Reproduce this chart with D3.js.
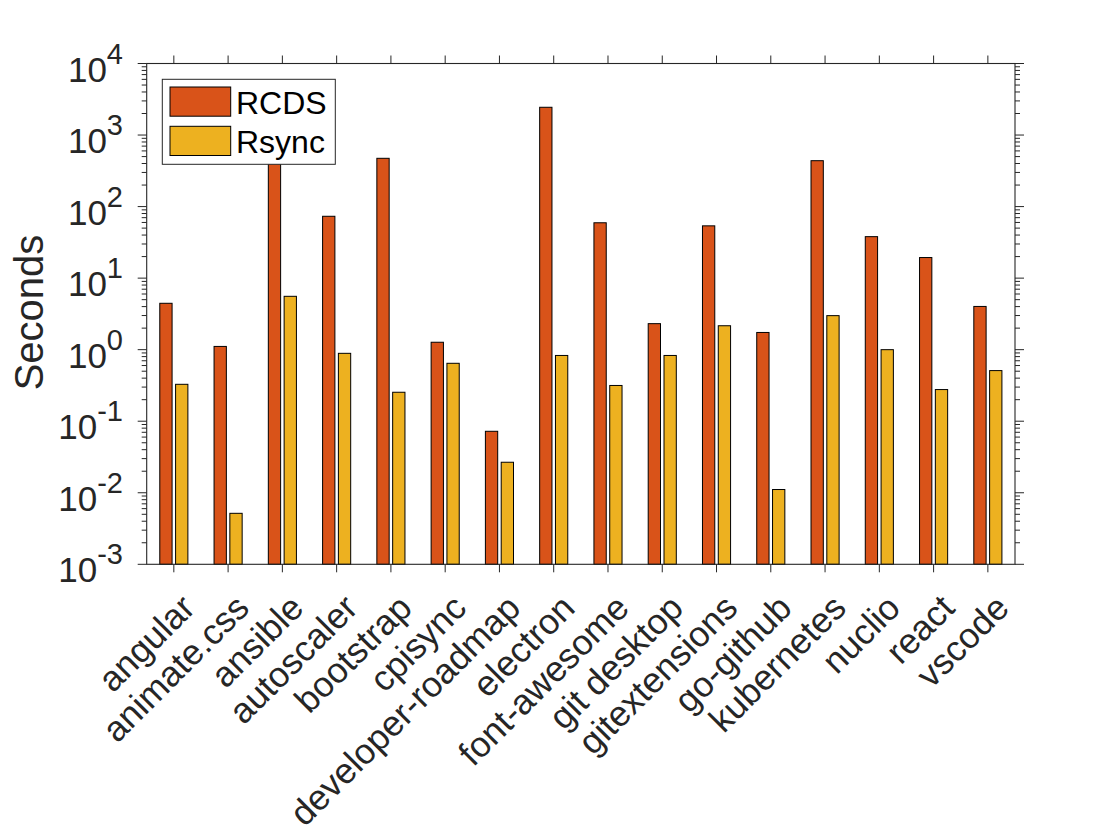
<!DOCTYPE html>
<html><head><meta charset="utf-8">
<script src="https://cdn.jsdelivr.net/npm/d3@7"></script>
<style>
html,body{margin:0;padding:0;background:#fff;}
svg{display:block;font-family:"Liberation Sans",Arial,Helvetica,sans-serif;}
</style></head>
<body>
<svg id="chart" width="1120" height="840"></svg>
<script>
const categories = ["angular","animate.css","ansible","autoscaler","bootstrap","cpisync","developer-roadmap","electron","font-awesome","git desktop","gitextensions","go-github","kubernetes","nuclio","react","vscode"];
const seriesNames = ["RCDS","Rsync"];
const rcds  = [4.45, 1.11, 700, 73.2, 473, 1.27, 0.0723, 2444, 59.4, 2.31, 53.8, 1.74, 438, 38.0, 19.4, 4.02];
const rsync = [0.328, 0.00516, 5.57, 0.889, 0.254, 0.645, 0.0267, 0.83, 0.316, 0.83, 2.16, 0.0111, 2.99, 1.0, 0.277, 0.51];
const yTickExponents = [-3,-2,-1,0,1,2,3,4];
const colors = ["#D95319","#EDB120"];

const svg = d3.select("#chart");
const L = 146.7, R = 1015, T = 63.5, B = 564.3;
const ink = "#262626";

const x = d3.scaleBand().domain(categories).range([L, R]).paddingInner(0).paddingOuter(0);
const inner = d3.scaleBand().domain(seriesNames).range([-14.05, 14.05]).paddingInner(0.2215);
const y = d3.scaleLog().domain([1e-3, 1e4]).range([B, T]);
const color = d3.scaleOrdinal().domain(seriesNames).range(colors);

const rows = categories.map((c, i) => ({cat: c, vals: [{s: "RCDS", v: rcds[i]}, {s: "Rsync", v: rsync[i]}]}));

// bars
const g = svg.append("g");
g.selectAll("g.grp").data(rows).join("g").attr("class","grp")
 .attr("transform", d => `translate(${x(d.cat) + x.bandwidth()/2},0)`)
 .selectAll("rect").data(d => d.vals).join("rect")
 .attr("x", d => inner(d.s))
 .attr("width", inner.bandwidth())
 .attr("y", d => y(d.v))
 .attr("height", d => y(1e-3) - y(d.v))
 .attr("fill", d => color(d.s))
 .attr("stroke", "#000").attr("stroke-width", 1);

// box
svg.append("rect").attr("x", L).attr("y", T).attr("width", R - L).attr("height", B - T)
 .attr("fill", "none").attr("stroke", ink).attr("stroke-width", 1.1);

// y ticks (left and right, outward)
const majors = yTickExponents.map(e => Math.pow(10, e));
const minors = [];
for (let e = -3; e < 4; e++) for (let k = 2; k <= 9; k++) minors.push(k * Math.pow(10, e));
const tk = svg.append("g").attr("stroke", ink).attr("stroke-width", 1);
majors.forEach(v => {
  tk.append("line").attr("x1", L - 9).attr("x2", L).attr("y1", y(v)).attr("y2", y(v));
  tk.append("line").attr("x1", R).attr("x2", R + 9).attr("y1", y(v)).attr("y2", y(v));
});
minors.forEach(v => {
  tk.append("line").attr("x1", L - 5).attr("x2", L).attr("y1", y(v)).attr("y2", y(v));
  tk.append("line").attr("x1", R).attr("x2", R + 5).attr("y1", y(v)).attr("y2", y(v));
});
// x ticks top and bottom, outward
categories.forEach(c => {
  const cx = x(c) + x.bandwidth()/2;
  tk.append("line").attr("x1", cx).attr("x2", cx).attr("y1", B).attr("y2", B + 8);
  tk.append("line").attr("x1", cx).attr("x2", cx).attr("y1", T - 8).attr("y2", T);
});

// y tick labels
const yl = svg.append("g").attr("fill", ink);
yTickExponents.forEach(e => {
  const t = yl.append("text").attr("x", 123).attr("y", y(Math.pow(10, e)) + 18)
    .attr("text-anchor", "end").attr("font-size", 35);
  t.append("tspan").text("10");
  t.append("tspan").attr("dy", -18).attr("font-size", 29).text(String(e));
});

// x tick labels
svg.append("g").attr("fill", ink).selectAll("text").data(categories).join("text")
 .attr("transform", c => `translate(${x(c) + x.bandwidth()/2 + 23},610) rotate(-45)`)
 .attr("text-anchor", "end").attr("font-size", 35.5).text(c => c);

// y label
svg.append("text").attr("transform", "translate(43,312.5) rotate(-90)")
 .attr("text-anchor", "middle").attr("font-size", 40).attr("fill", ink).text("Seconds");

// legend
const lg = svg.append("g");
lg.append("rect").attr("x", 162.3).attr("y", 79.3).attr("width", 173).attr("height", 85)
 .attr("fill", "#fff").attr("stroke", ink).attr("stroke-width", 1);
seriesNames.forEach((s, i) => {
  const yy = 87 + i * 39.3;
  lg.append("rect").attr("x", 170).attr("y", yy).attr("width", 60.7).attr("height", 29.2)
    .attr("fill", color(s)).attr("stroke", "#000").attr("stroke-width", 1);
  lg.append("text").attr("x", 236).attr("y", yy + 27).attr("font-size", 32).attr("fill", "#000").text(s);
});
</script>
</body></html>
